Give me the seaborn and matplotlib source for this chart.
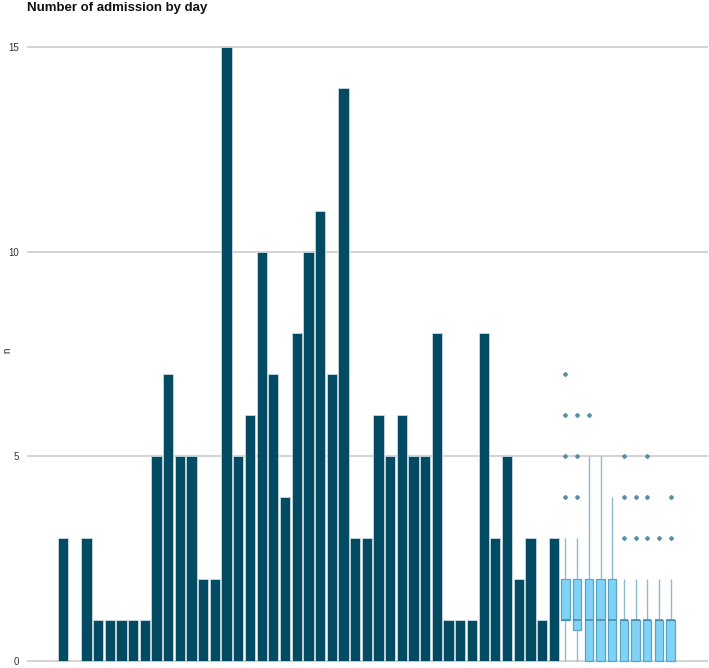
import numpy as np
import pandas as pd
import matplotlib
matplotlib.use('Agg')
import matplotlib.pyplot as plt
import seaborn as sns

# daily admissions (one slot per day, slot 1 had none)
day_counts = [3, 0, 3, 1, 1, 1, 1, 1, 5, 7, 5, 5, 2, 2, 15, 5, 6, 10, 7, 4,
              8, 10, 11, 7, 14, 3, 3, 6, 5, 6, 5, 5, 8, 1, 1, 1, 8, 3, 5, 2,
              3, 1, 3]

# admissions for the last ten days, spread over the reporting units
box1 = [0, 0, 1, 1, 1, 1, 1, 1, 1, 1, 1, 2, 2, 2, 2, 2, 3, 4, 5, 6, 7]
box2 = [0, 0, 0, 0, 0, 1, 1, 1, 1, 1, 1, 1, 1, 2, 2, 2, 3, 4, 5, 6]
box3 = [0] * 6 + [1] * 5 + [2] * 5 + [3, 3, 4, 5, 6]
box4 = [0] * 6 + [1] * 5 + [2] * 5 + [3, 3, 4, 4, 5]
box5 = [0] * 6 + [1] * 5 + [2] * 5 + [3, 3, 3, 4, 4]
box6 = [0] * 6 + [1] * 10 + [2, 2, 3, 4, 5]
box7 = [0] * 6 + [1] * 10 + [2, 2, 2, 3, 4]
box8 = [0] * 6 + [1] * 10 + [2, 2, 3, 4, 5]
box9 = [0] * 6 + [1] * 10 + [2, 2, 2, 2, 3]
box10 = [0] * 6 + [1] * 10 + [2, 2, 2, 3, 4]
boxes = [box1, box2, box3, box4, box5, box6, box7, box8, box9, box10]

yticks = [0, 5, 10, 15]

bars = pd.DataFrame({'day': np.arange(len(day_counts)), 'n': day_counts})
rows = []
for i, b in enumerate(boxes):
    for v in b:
        rows.append((len(day_counts) + i, v))
recent = pd.DataFrame(rows, columns=['day', 'n'])

sns.set_style('white')
plt.rcParams['font.family'] = ['Liberation Sans', 'DejaVu Sans']

fig = plt.figure(figsize=(7.09, 6.68), dpi=100)
ax = fig.add_axes([0.0381, 0.0045, 0.9605, 0.9435])

sns.barplot(data=bars, x='day', y='n', native_scale=True, width=0.88,
            color='#024b63', saturation=1, edgecolor='#c9d8df', linewidth=0.6,
            errorbar=None, ax=ax, zorder=3)

sns.boxplot(data=recent, x='day', y='n', native_scale=True, width=0.72,
            color='#7fd3f7', saturation=1, linecolor='#5aa3c4', linewidth=0.9,
            showcaps=False,
            whiskerprops=dict(color='#8fb9cc', linewidth=1.0),
            medianprops=dict(color='#4a86a2', linewidth=1.1),
            flierprops=dict(marker='D', markersize=2.0, markerfacecolor='#5b8fa8',
                            markeredgecolor='#5b8fa8'),
            ax=ax, zorder=3)

ax.set_xlim(-3.08, 55.2)
ax.set_ylim(-0.1, 15.3)
ax.set_yticks(yticks)
ax.set_xticks([])
ax.yaxis.grid(True, color='#c8c8c8', linewidth=1.1)
ax.set_axisbelow(True)
for s in ax.spines.values():
    s.set_visible(False)
ax.tick_params(axis='y', length=0, pad=6, labelsize=7, labelcolor='#333333')
ax.set_xlabel('')
ax.set_ylabel('n', fontsize=7)
ax.yaxis.set_label_coords(-0.022, 0.5)

fig.text(27 / 709, 1 - 8 / 668, 'Number of admission by day', ha='left',
         va='center', fontsize=9.5, fontweight='bold', color='#111111')

fig.savefig('out.png', dpi=100)
